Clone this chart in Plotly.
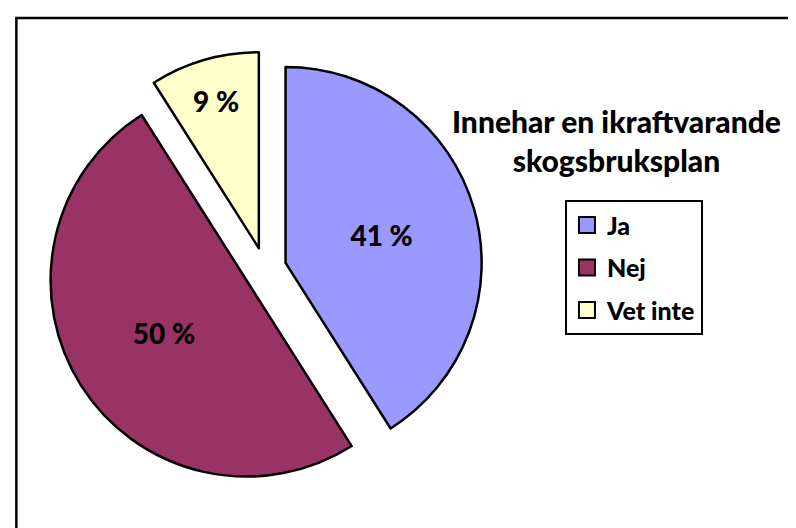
import plotly.graph_objects as go

categories = ["Ja", "Nej", "Vet inte"]
values = [41, 50, 9]
colors = ["#9999FF", "#993366", "#FFFFCC"]
title_text = "Innehar en ikraftvarande<br>skogsbruksplan"

FONT = "Lato"

fig = go.Figure()

fig.add_trace(go.Pie(
    labels=categories,
    values=values,
    sort=False,
    direction="clockwise",
    rotation=0,
    pull=[0.11, 0.11, 0.11],
    marker=dict(colors=colors, line=dict(color="black", width=2.5)),
    texttemplate="%{value} %",
    textposition="inside",
    insidetextorientation="horizontal",
    textfont=dict(family=FONT, size=28, color="black", weight=900),
    domain=dict(x=[0.0492, 0.5962], y=[0.0936, 0.9179]),
    showlegend=False,
    hoverinfo="label+percent",
))

# legend entries (one legend group per category for spacing)
for name, col in zip(categories, colors):
    fig.add_trace(go.Scatter(
        x=[None], y=[None], mode="markers", name=name,
        legendgroup=name,
        marker=dict(symbol="square", size=16, color=col,
                    line=dict(color="black", width=2)),
        showlegend=True,
    ))

fig.update_xaxes(visible=False)
fig.update_yaxes(visible=False)

fig.add_annotation(
    text=title_text, xref="paper", yref="paper",
    x=0.764, y=0.75, xanchor="center", yanchor="middle",
    showarrow=False,
    font=dict(family=FONT, size=30, color="black", weight=900),
)

fig.add_shape(type="rect", xref="paper", yref="paper",
              x0=0.0105, x1=1.05, y0=-0.05, y1=0.981,
              line=dict(color="black", width=2.5))

fig.update_layout(
    width=796, height=528,
    margin=dict(l=0, r=0, t=0, b=0),
    paper_bgcolor="white", plot_bgcolor="white",
    legend=dict(
        x=0.6997, y=0.636, xanchor="left", yanchor="top",
        bordercolor="black", borderwidth=2,
        font=dict(family=FONT, size=25, color="black", weight=900),
        tracegroupgap=7, itemwidth=30,
        bgcolor="white",
    ),
)

fig.write_html("out.html")
